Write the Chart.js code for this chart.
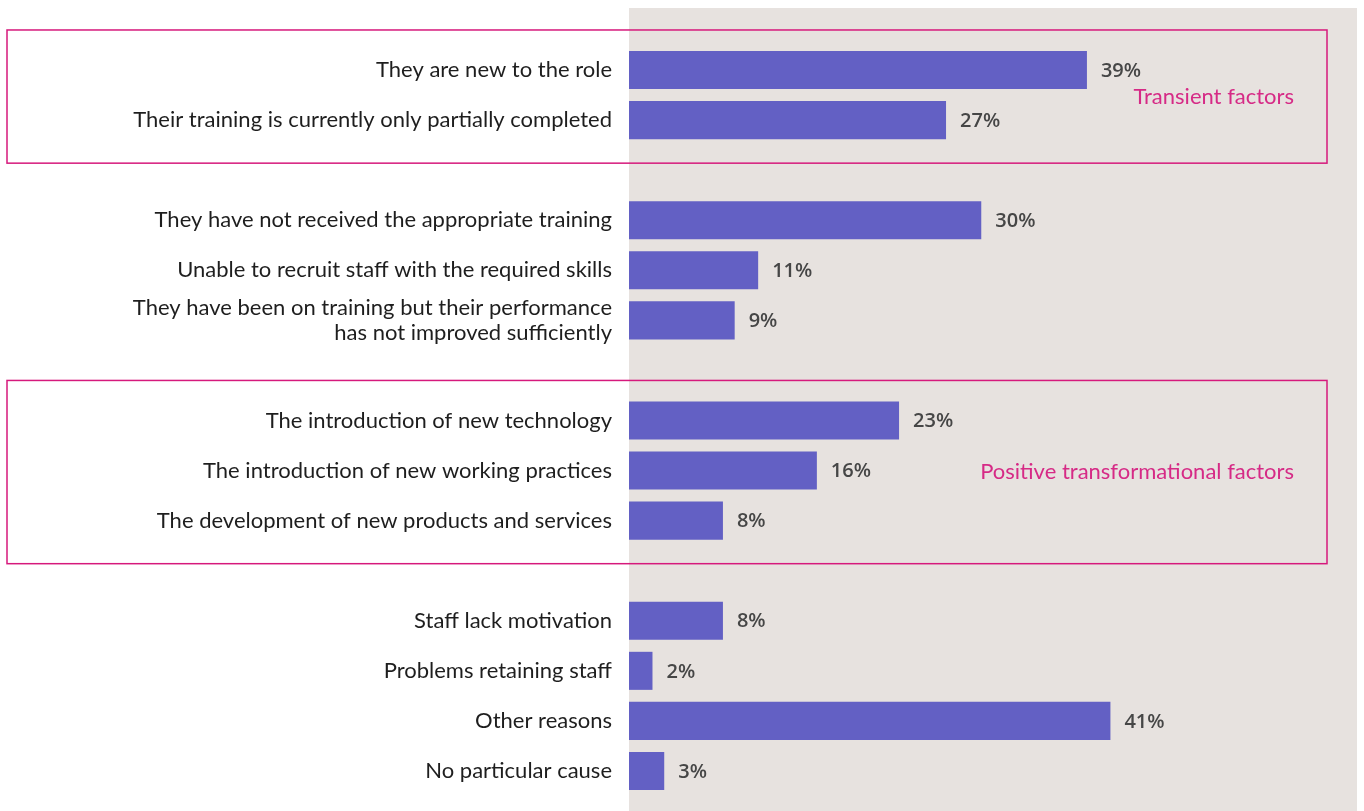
<!DOCTYPE html>
<html>
<head>
<meta charset="utf-8">
<script src="https://cdn.jsdelivr.net/npm/chart.js@4"></script>
<style>
  html, body { margin: 0; padding: 0; background: #ffffff; }
  #wrap { width: 1364px; height: 811px; position: relative; }
</style>
</head>
<body>
<div id="wrap"><canvas id="reasonsChart"></canvas></div>
<script>
// Reasons given for skills gaps (% of establishments)
const categories = [
    'They are new to the role',
    'Their training is currently only partially completed',
    'They have not received the appropriate training',
    'Unable to recruit staff with the required skills',
    ['They have been on training but their performance', 'has not improved sufficiently'],
    'The introduction of new technology',
    'The introduction of new working practices',
    'The development of new products and services',
    'Staff lack motivation',
    'Problems retaining staff',
    'Other reasons',
    'No particular cause'
];
const values = [39, 27, 30, 11, 9, 23, 16, 8, 8, 2, 41, 3];

// a blank row follows the item at each of these indexes
const groupEnds = [1, 4, 7];

// framed groups: first and last item index
const groupNames = ['Transient factors', 'Positive transformational factors'];
const groupFirst = [0, 5];
const groupLast = [1, 7];

const BAR = '#6360c4';
const PANEL = '#e7e2df';
const PINK = '#d6197c';
const LABEL_FONT = 'Lato, "Open Sans", sans-serif';

// build rows with spacers between groups
const rowLabels = [];
const rowValues = [];
const rowOfItem = [];
categories.forEach((c, i) => {
    rowOfItem.push(rowLabels.length);
    rowLabels.push(c);
    rowValues.push(values[i]);
    if (groupEnds.includes(i)) {
        rowLabels.push('');
        rowValues.push(null);
    }
});

const panelPlugin = {
    id: 'panel',
    beforeDraw(chart) {
        const { ctx, chartArea } = chart;
        ctx.save();
        ctx.fillStyle = PANEL;
        ctx.fillRect(chartArea.left, 8, chartArea.right - chartArea.left, chart.height - 8);
        ctx.restore();
    }
};

const valueLabelPlugin = {
    id: 'valueLabels',
    afterDatasetsDraw(chart) {
        const { ctx } = chart;
        const meta = chart.getDatasetMeta(0);
        ctx.save();
        ctx.font = '600 20px "Open Sans", sans-serif';
        ctx.fillStyle = '#464646';
        ctx.textAlign = 'left';
        ctx.textBaseline = 'middle';
        meta.data.forEach((bar, i) => {
            const v = rowValues[i];
            if (v === null) return;
            ctx.fillText(v + '%', bar.x + 14, bar.y + 1);
        });
        ctx.restore();
    }
};

const framePlugin = {
    id: 'groupFrames',
    afterDraw(chart) {
        const { ctx, chartArea } = chart;
        const y = chart.scales.y;
        const step = Math.abs(y.getPixelForValue(1) - y.getPixelForValue(0));
        ctx.save();
        groupNames.forEach((name, g) => {
            const top = y.getPixelForValue(rowOfItem[groupFirst[g]]) - step * 0.8;
            const bottom = y.getPixelForValue(rowOfItem[groupLast[g]]) + step * 0.86;
            const left = 7;
            const right = chartArea.right - 30;
            ctx.strokeStyle = PINK;
            ctx.lineWidth = 1.5;
            ctx.strokeRect(left, top, right - left, bottom - top);
            ctx.font = '22px ' + LABEL_FONT;
            ctx.fillStyle = '#d62a86';
            ctx.textAlign = 'right';
            ctx.textBaseline = 'middle';
            ctx.fillText(name, right - 33, (top + bottom) / 2);
        });
        ctx.restore();
    }
};

new Chart(document.getElementById('reasonsChart'), {
    type: 'bar',
    data: {
        labels: rowLabels,
        datasets: [{
            data: rowValues,
            backgroundColor: BAR,
            borderWidth: 0,
            barPercentage: 0.76,
            categoryPercentage: 1
        }]
    },
    options: {
        indexAxis: 'y',
        responsive: true,
        maintainAspectRatio: false,
        animation: false,
        layout: { padding: { top: 45, bottom: 15, left: 0, right: 7 } },
        plugins: {
            legend: { display: false },
            tooltip: { enabled: false }
        },
        scales: {
            x: {
                display: false,
                min: 0,
                max: 62
            },
            y: {
                // gap between label and bars comes from tickLength
                grid: { display: false, drawTicks: true, tickLength: 17 },
                border: { display: false },
                afterFit(scale) { scale.width = 629; },
                ticks: {
                    color: '#1e1e1e',
                    padding: 0,
                    autoSkip: false,
                    font: { family: LABEL_FONT, size: 22, lineHeight: 1.15 }
                }
            }
        }
    },
    plugins: [panelPlugin, valueLabelPlugin, framePlugin]
});
</script>
</body>
</html>
